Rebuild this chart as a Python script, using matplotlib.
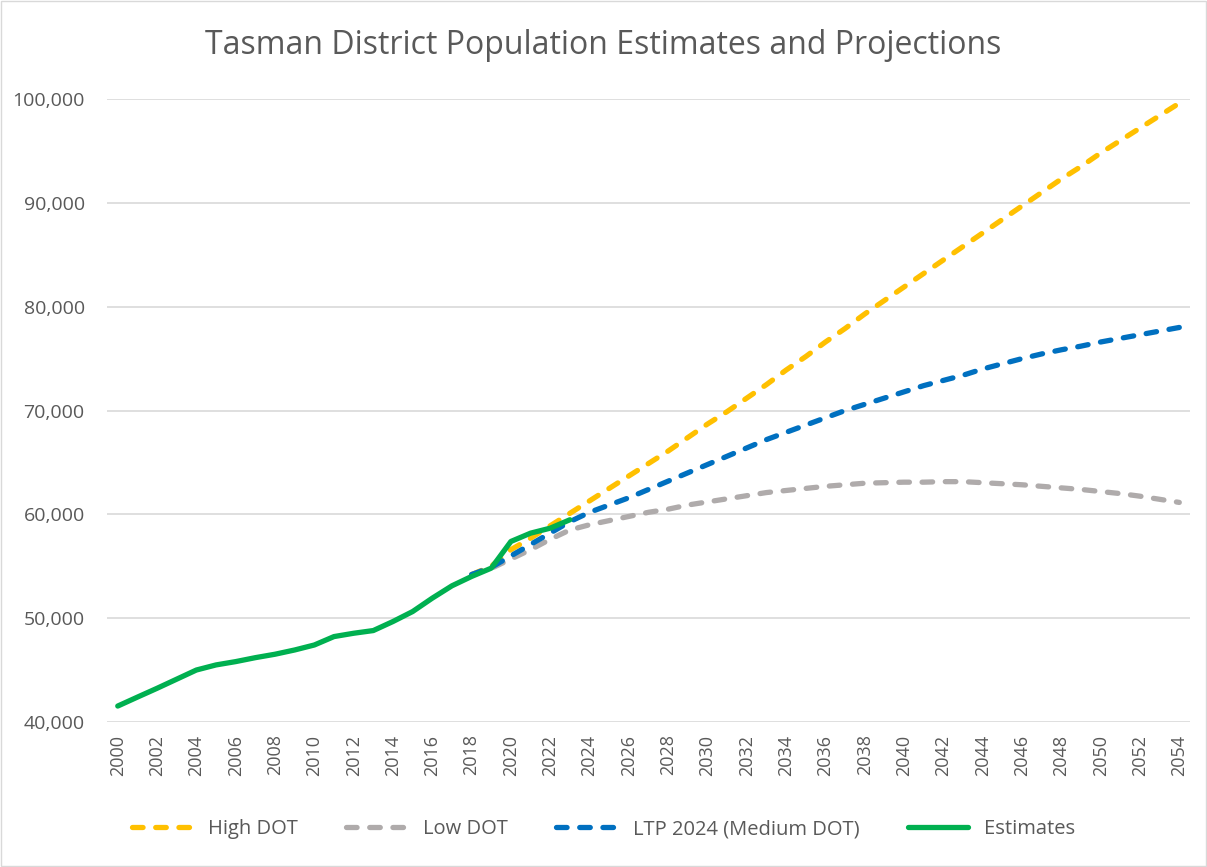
import matplotlib
matplotlib.use('Agg')
import matplotlib.pyplot as plt
from matplotlib.patches import Rectangle
from matplotlib.ticker import FuncFormatter

plt.rcParams['font.family'] = ['Open Sans', 'DejaVu Sans']

# estimates 2000-2023
est_years = list(range(2000, 2024))
estimates = [41540, 42400, 43250, 44130, 45010, 45500, 45820, 46200, 46530, 46940,
             47420, 48230, 48550, 48810, 49680, 50640, 51930, 53120, 54020, 54820,
             57390, 58190, 58670, 59480]

# projections 2018-2054
proj_years = list(range(2018, 2055))
high_dot = [54200, 55000, 56600, 57700, 58900, 60100, 61300, 62500, 63700, 64900,
            66100, 67400, 68700, 69900, 71200, 72500, 73900, 75200, 76600, 77900,
            79300, 80600, 81900, 83200, 84500, 85800, 87100, 88400, 89700, 91000,
            92300, 93500, 94800, 96000, 97200, 98400, 99600]
low_dot = [54200, 54800, 55700, 56600, 57600, 58500, 59000, 59400, 59800, 60200,
           60500, 60900, 61200, 61500, 61800, 62100, 62300, 62500, 62700, 62850,
           63000, 63050, 63100, 63100, 63150, 63150, 63050, 62950, 62850, 62700,
           62550, 62400, 62200, 62000, 61750, 61450, 61150]
medium_dot = [54200, 54900, 56000, 57100, 58200, 59300, 60200, 60900, 61600, 62400,
              63200, 64000, 64800, 65600, 66400, 67200, 67900, 68600, 69300, 70000,
              70600, 71200, 71800, 72400, 72900, 73400, 74000, 74500, 75000, 75450,
              75850, 76200, 76600, 76950, 77300, 77650, 78000]

grey_txt = '#595959'
lw = 3.8
dash = (0, (2.0, 2.4))

fig = plt.figure(figsize=(12.07, 8.67), dpi=100)
ax = fig.add_axes([0.0886, 0.1672, 0.986 - 0.0886, 0.8858 - 0.1672])

ax.plot(proj_years, high_dot, color='#FFC000', lw=lw, linestyle=dash,
        dash_capstyle='round', label='High DOT')
ax.plot(proj_years, low_dot, color='#AFABAB', lw=lw, linestyle=dash,
        dash_capstyle='round', label='Low DOT')
ax.plot(proj_years, medium_dot, color='#0070C0', lw=lw, linestyle=dash,
        dash_capstyle='round', label='LTP 2024 (Medium DOT)')
ax.plot(est_years, estimates, color='#00B050', lw=lw, solid_capstyle='round',
        solid_joinstyle='round', label='Estimates')

ax.set_xlim(1999.45, 2054.55)
ax.set_ylim(40000, 100000)
ax.set_xticks(range(2000, 2055, 2))
ax.set_yticks(range(40000, 100001, 10000))
ax.yaxis.set_major_formatter(FuncFormatter(lambda v, p: f'{int(v):,}'))
ax.tick_params(axis='x', rotation=90, length=0, pad=9, labelsize=13, labelcolor=grey_txt)
ax.tick_params(axis='y', length=0, pad=16, labelsize=14, labelcolor=grey_txt)
ax.grid(axis='y', color='#D9D9D9', lw=1.2)
ax.set_axisbelow(True)
for s in ax.spines.values():
    s.set_visible(False)

fig.text(0.5, 1 - 46 / 867, 'Tasman District Population Estimates and Projections',
         ha='center', va='center', fontsize=23, color=grey_txt)

fig.legend(loc='center', bbox_to_anchor=(0.5, 1 - 829 / 867), ncol=4, frameon=False,
           fontsize=14.5, labelcolor=grey_txt, handlelength=3.0, handletextpad=0.8,
           columnspacing=2.4)

fig.patches.append(Rectangle((0.001, 0.001), 0.998, 0.998, transform=fig.transFigure,
                             fill=False, edgecolor='#D9D9D9', lw=1))

fig.savefig('out.png', dpi=100)
